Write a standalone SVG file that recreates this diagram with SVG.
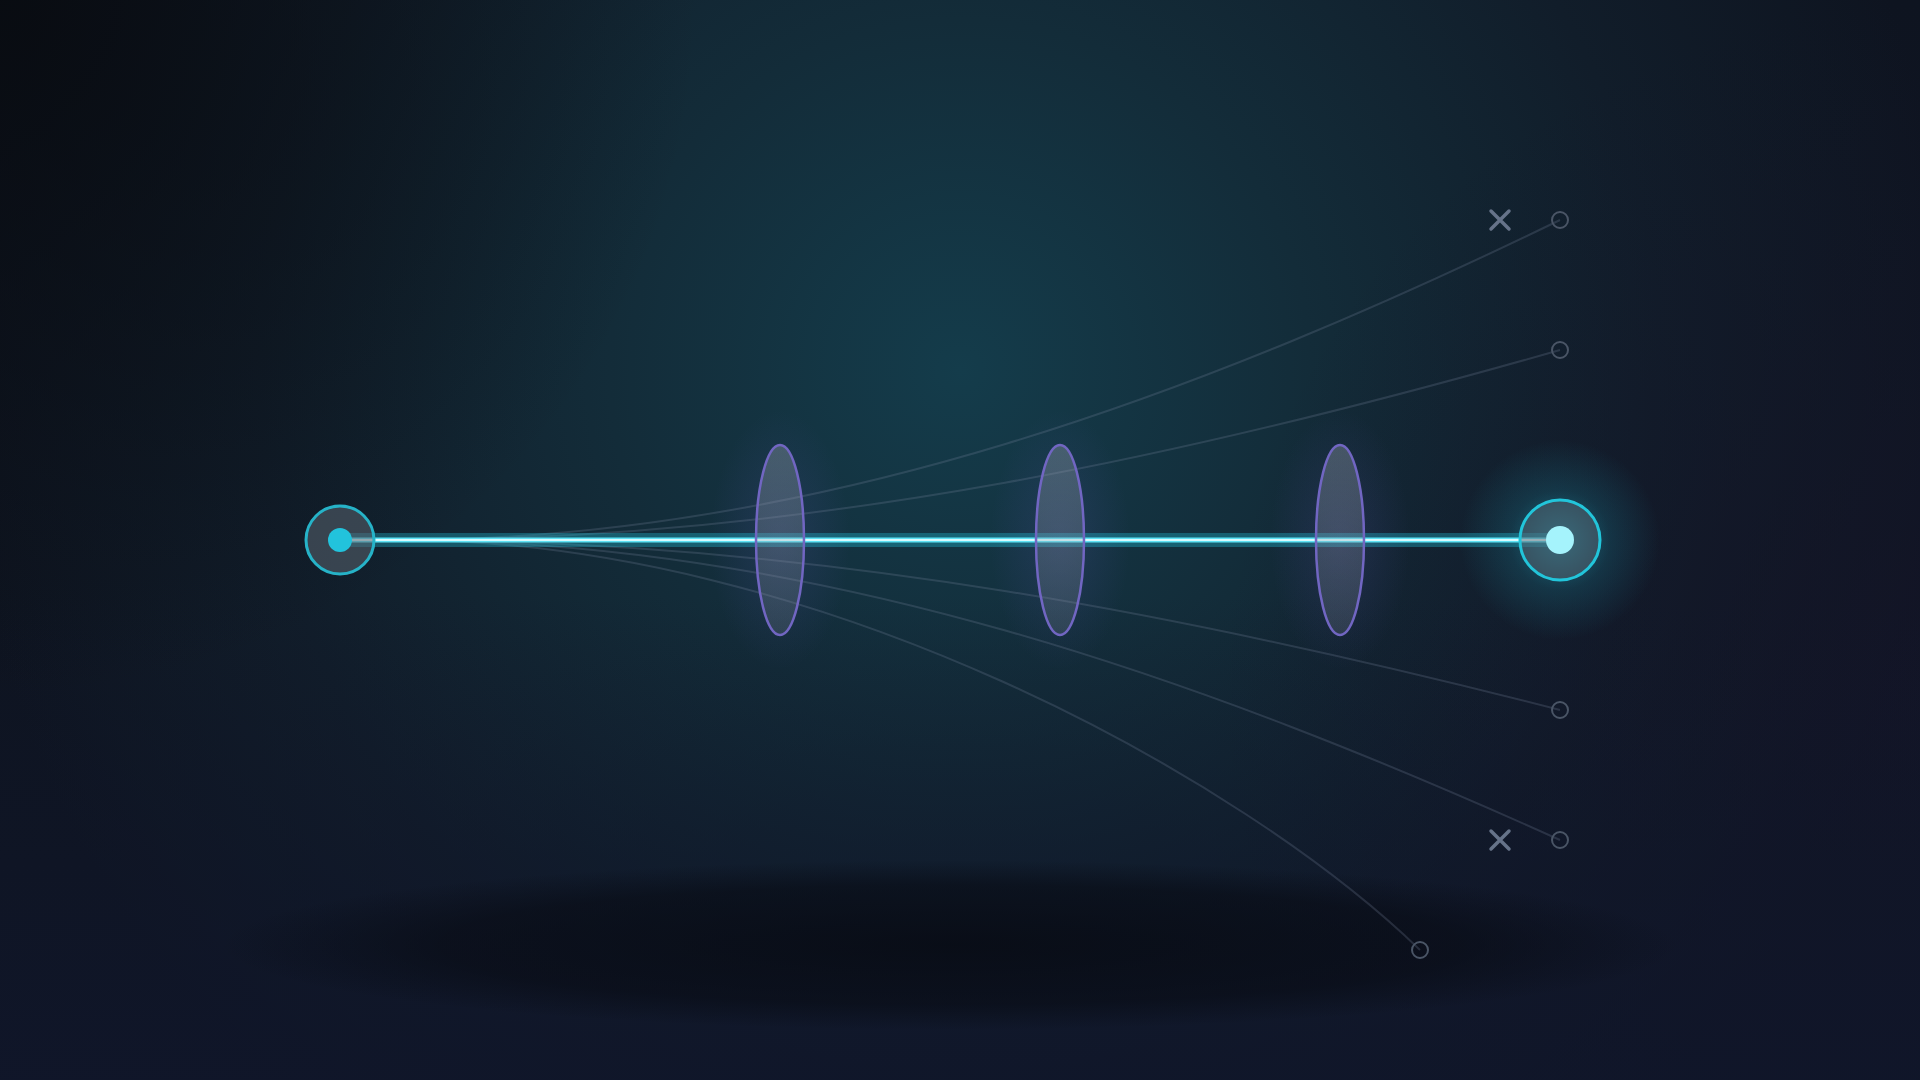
<svg xmlns="http://www.w3.org/2000/svg" width="1920" height="1080" viewBox="0 0 1920 1080">
  <defs>
    <radialGradient id="bgGlow" cx="960" cy="370" r="1000" gradientUnits="userSpaceOnUse">
      <stop offset="0" stop-color="#143c4b"/>
      <stop offset="0.35" stop-color="#132c39"/>
      <stop offset="0.7" stop-color="#111d2a"/>
      <stop offset="1" stop-color="#0e1420"/>
    </radialGradient>
    <linearGradient id="bgBottom" x1="0" y1="0" x2="0" y2="1">
      <stop offset="0.55" stop-color="#10162a" stop-opacity="0"/>
      <stop offset="1" stop-color="#10162a" stop-opacity="0.9"/>
    </linearGradient>
    <radialGradient id="cornerTL" cx="0" cy="0" r="700" gradientUnits="userSpaceOnUse">
      <stop offset="0" stop-color="#080b10" stop-opacity="0.9"/>
      <stop offset="1" stop-color="#080b10" stop-opacity="0"/>
    </radialGradient>
    <radialGradient id="cornerR" cx="1920" cy="700" r="700" gradientUnits="userSpaceOnUse">
      <stop offset="0" stop-color="#141528" stop-opacity="0.8"/>
      <stop offset="1" stop-color="#141528" stop-opacity="0"/>
    </radialGradient>
    <radialGradient id="shadowGrad" cx="0.5" cy="0.5" r="0.5">
      <stop offset="0" stop-color="#070a12" stop-opacity="0.8"/>
      <stop offset="0.7" stop-color="#070a12" stop-opacity="0.55"/>
      <stop offset="1" stop-color="#070a12" stop-opacity="0"/>
    </radialGradient>
    <radialGradient id="nodeGlow" cx="0.5" cy="0.5" r="0.5">
      <stop offset="0" stop-color="#22d3ee" stop-opacity="0.45"/>
      <stop offset="0.5" stop-color="#22d3ee" stop-opacity="0.14"/>
      <stop offset="1" stop-color="#22d3ee" stop-opacity="0"/>
    </radialGradient>
    <radialGradient id="lensGlow" cx="0.5" cy="0.5" r="0.5">
      <stop offset="0" stop-color="#6d5fd0" stop-opacity="0.16"/>
      <stop offset="1" stop-color="#6d5fd0" stop-opacity="0"/>
    </radialGradient>
    <linearGradient id="lensFill" x1="0" y1="0" x2="0" y2="1">
      <stop offset="0" stop-color="#9aa3b0" stop-opacity="0.36"/>
      <stop offset="1" stop-color="#8a93a3" stop-opacity="0.2"/>
    </linearGradient>
    <filter id="beamBlur" x="-5%" y="-500%" width="110%" height="1100%">
      <feGaussianBlur stdDeviation="3"/>
    </filter>
    <style>
      .ray { fill: none; stroke: #7d8aa3; stroke-opacity: 0.24; stroke-width: 2; }
      .endpt { fill: none; stroke: #4a5566; stroke-width: 2; }
      .xmark { stroke: #667389; stroke-width: 3.5; stroke-linecap: round; }
      .lens { fill: url(#lensFill); stroke: #7166c2; stroke-width: 2.5; }
    </style>
  </defs>

  <!-- background -->
  <rect width="1920" height="1080" fill="url(#bgGlow)"/>
  <rect width="1920" height="1080" fill="url(#cornerTL)"/>
  <rect width="1920" height="1080" fill="url(#cornerR)"/>
  <rect width="1920" height="1080" fill="url(#bgBottom)"/>
  <ellipse cx="950" cy="945" rx="730" ry="85" fill="url(#shadowGrad)"/>

  <!-- glows -->
  <circle cx="1560" cy="540" r="100" fill="url(#nodeGlow)"/>
  <ellipse cx="780" cy="540" rx="70" ry="130" fill="url(#lensGlow)"/>
  <ellipse cx="1060" cy="540" rx="70" ry="130" fill="url(#lensGlow)"/>
  <ellipse cx="1340" cy="540" rx="70" ry="130" fill="url(#lensGlow)"/>

  <!-- connectors -->
  <g id="connectors">
    <path class="ray" d="M400,540 C820,540 1210,390 1560,220"/>
    <path class="ray" d="M400,540 C820,540 1210,450 1560,350"/>
    <path class="ray" d="M400,540 C820,540 1210,620 1560,710"/>
    <path class="ray" d="M400,540 C820,540 1210,682 1560,840"/>
    <path class="ray" d="M400,540 C820,540 1245,780 1420,950"/>
    <g id="beam">
      <line x1="340" y1="540" x2="1560" y2="540" stroke="#22d3ee" stroke-opacity="0.3" stroke-width="14"/>
      <line x1="340" y1="540" x2="1560" y2="540" stroke="#22d3ee" stroke-opacity="0.6" stroke-width="8" filter="url(#beamBlur)"/>
      <line x1="340" y1="540" x2="1560" y2="540" stroke="#5ee3f5" stroke-width="5"/>
      <line x1="340" y1="540" x2="1560" y2="540" stroke="#d9fbff" stroke-width="2"/>
    </g>
  </g>

  <!-- lenses -->
  <g id="lens-1"><ellipse class="lens" cx="780" cy="540" rx="24" ry="95"/></g>
  <g id="lens-2"><ellipse class="lens" cx="1060" cy="540" rx="24" ry="95"/></g>
  <g id="lens-3"><ellipse class="lens" cx="1340" cy="540" rx="24" ry="95"/></g>

  <!-- source node -->
  <g id="source">
    <circle cx="340" cy="540" r="34" fill="#5a6470" fill-opacity="0.55" stroke="#26b3c8" stroke-width="3"/>
    <circle cx="340" cy="540" r="12" fill="#22c3dc"/>
  </g>

  <!-- target node -->
  <g id="target">
    <circle cx="1560" cy="540" r="40" fill="#5a6470" fill-opacity="0.5" stroke="#22c5da" stroke-width="3"/>
    <circle cx="1560" cy="540" r="14" fill="#a5f3fc"/>
  </g>

  <!-- endpoints -->
  <g id="end-1"><circle class="endpt" cx="1560" cy="220" r="8"/></g>
  <g id="end-2"><circle class="endpt" cx="1560" cy="350" r="8"/></g>
  <g id="end-3"><circle class="endpt" cx="1560" cy="710" r="8"/></g>
  <g id="end-4"><circle class="endpt" cx="1560" cy="840" r="8"/></g>
  <g id="end-5"><circle class="endpt" cx="1420" cy="950" r="8"/></g>

  <!-- blocked marks -->
  <g id="x-1"><path class="xmark" d="M1491,211 L1509,229 M1509,211 L1491,229"/></g>
  <g id="x-2"><path class="xmark" d="M1491,831 L1509,849 M1509,831 L1491,849"/></g>
</svg>
